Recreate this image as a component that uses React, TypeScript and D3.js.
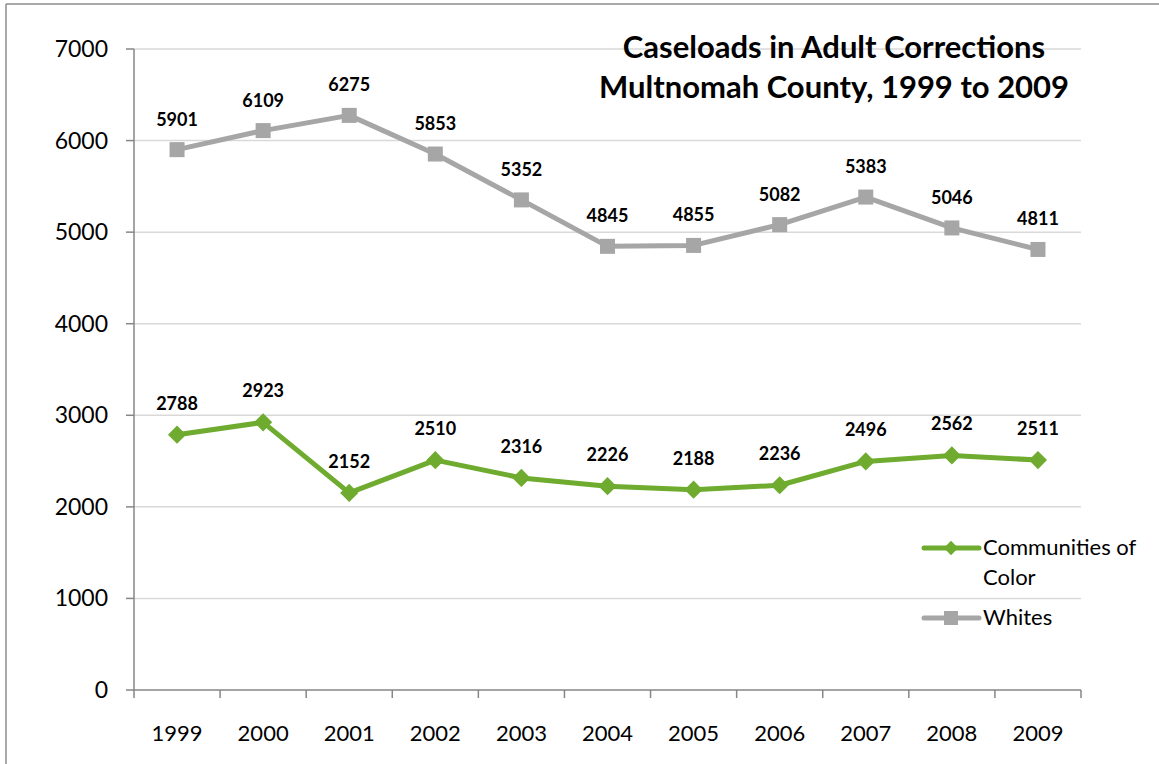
import React from "react";
import * as d3 from "d3";

const years = ["1999","2000","2001","2002","2003","2004","2005","2006","2007","2008","2009"];
const whites = [5901,6109,6275,5853,5352,4845,4855,5082,5383,5046,4811];
const colorComm = [2788,2923,2152,2510,2316,2226,2188,2236,2496,2562,2511];
const yTicks = [0,1000,2000,3000,4000,5000,6000,7000];
const titleLines = ["Caseloads in Adult Corrections","Multnomah County, 1999 to 2009"];
const legendItems = [
  { name: ["Communities of","Color"], key: "green" },
  { name: ["Whites"], key: "gray" },
];

const W = 1159, H = 764;
const left = 134, right = 1081, top = 49, bottom = 690;
const GREEN = "#6fab2f";
const GRAY = "#a6a6a6";
const FONT = "Lato, 'Open Sans', sans-serif";

export default function App() {
  const x = d3.scaleBand().domain(years).range([left, right]);
  const y = d3.scaleLinear().domain([0, 7000]).range([bottom, top]);
  const line = d3.line<number>().x((_, i) => x(years[i])! + x.bandwidth() / 2).y(d => y(d));
  const cx = (i: number) => x(years[i])! + x.bandwidth() / 2;

  return (
    <svg width={W} height={H} style={{ position: "absolute", left: 0, top: 0, background: "#fff" }} fontFamily={FONT}>
      <line x1={6} y1={4} x2={W} y2={4} stroke="#8c8c8c" strokeWidth={1.5} />
      <line x1={6} y1={4} x2={6} y2={H} stroke="#8c8c8c" strokeWidth={1.5} />
      {yTicks.map(t => (
        <g key={t}>
          {t > 0 && <line x1={left} x2={right} y1={y(t)} y2={y(t)} stroke="#d9d9d9" strokeWidth={1.5} />}
          <line x1={left - 8} x2={left} y1={y(t)} y2={y(t)} stroke="#868686" strokeWidth={1.5} />
          <text x={108} y={y(t) + 8} textAnchor="end" fontSize={23} fill="#000">{t}</text>
        </g>
      ))}
      <line x1={left} x2={left} y1={top} y2={bottom} stroke="#868686" strokeWidth={1.5} />
      <line x1={left} x2={right} y1={bottom} y2={bottom} stroke="#868686" strokeWidth={1.5} />
      {years.map((yr, i) => (
        <g key={yr}>
          <line x1={x(yr)!} x2={x(yr)!} y1={bottom} y2={bottom + 8} stroke="#868686" strokeWidth={1.5} />
          <text x={cx(i)} y={741} textAnchor="middle" fontSize={22} fill="#000">{yr}</text>
        </g>
      ))}
      <line x1={right} x2={right} y1={bottom} y2={bottom + 8} stroke="#868686" strokeWidth={1.5} />

      <path d={line(whites)!} fill="none" stroke={GRAY} strokeWidth={5} strokeLinejoin="round" />
      {whites.map((v, i) => (
        <g key={i}>
          <rect x={cx(i) - 7.5} y={y(v) - 7.5} width={15} height={15} fill={GRAY} />
          <text x={cx(i)} y={y(v) - 24} textAnchor="middle" fontSize={18} fontWeight="bold">{v}</text>
        </g>
      ))}
      <path d={line(colorComm)!} fill="none" stroke={GREEN} strokeWidth={5} strokeLinejoin="round" />
      {colorComm.map((v, i) => (
        <g key={i}>
          <path d={d3.symbol(d3.symbolDiamond2, 210)()!} transform={`translate(${cx(i)},${y(v)})`} fill={GREEN} />
          <text x={cx(i)} y={y(v) - 25} textAnchor="middle" fontSize={18} fontWeight="bold">{v}</text>
        </g>
      ))}

      {titleLines.map((t, i) => (
        <text key={i} x={834} y={58 + i * 40} textAnchor="middle" fontSize={31} fontWeight="bold">{t}</text>
      ))}

      {legendItems.map((it, i) => {
        const ly = i === 0 ? 548 : 618;
        const col = it.key === "green" ? GREEN : GRAY;
        return (
          <g key={it.key}>
            <line x1={924} x2={979} y1={ly} y2={ly} stroke={col} strokeWidth={5} strokeLinecap="round" />
            {it.key === "green"
              ? <path d={d3.symbol(d3.symbolDiamond2, 130)()!} transform={`translate(951,${ly})`} fill={col} />
              : <rect x={944} y={ly - 7} width={14} height={14} fill={col} />}
            {it.name.map((n, j) => (
              <text key={j} x={983} y={ly + 7 + j * 30} fontSize={22}>{n}</text>
            ))}
          </g>
        );
      })}
    </svg>
  );
}
